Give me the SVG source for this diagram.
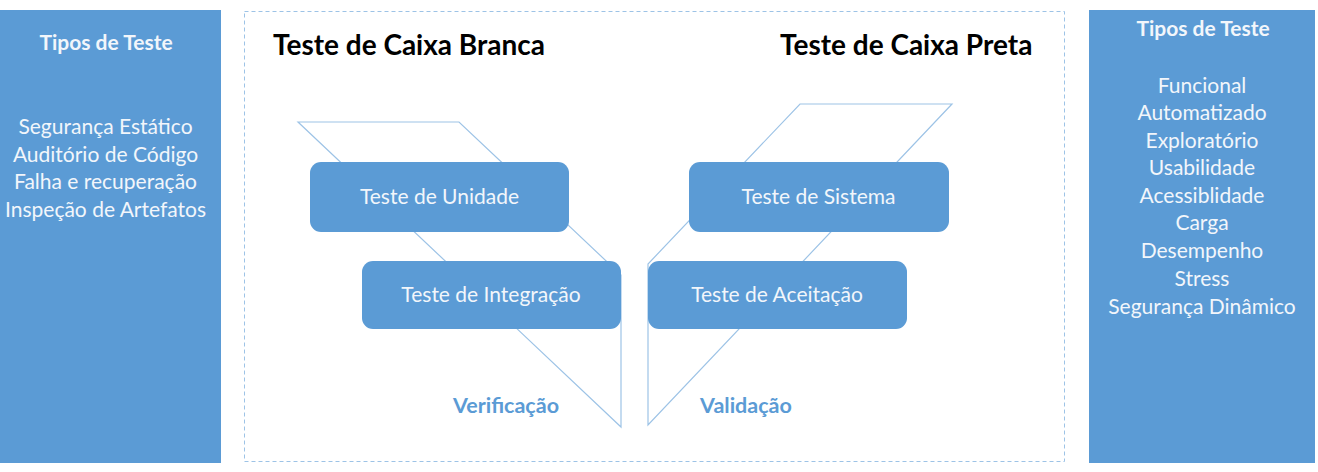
<svg xmlns="http://www.w3.org/2000/svg" width="1318" height="472" viewBox="0 0 1318 472">
<style>
.panel{fill:#5b9bd5;}
.box{fill:#5b9bd5;}
.shape{fill:none;stroke:#9dc3e6;stroke-width:1.2;}
.t{font-family:Lato,"Open Sans",sans-serif;fill:#f2f6fb;text-anchor:middle;dominant-baseline:central;}
.pt{font-size:21px;}
.ph{font-size:21px;font-weight:bold;}
.bt{font-size:21px;}
.title{font-family:Lato,"Open Sans",sans-serif;font-size:28px;font-weight:bold;fill:#000;dominant-baseline:central;}
.lab{font-family:Lato,"Open Sans",sans-serif;font-size:21.5px;font-weight:bold;fill:#5b9bd5;text-anchor:middle;dominant-baseline:central;}
</style>
<rect width="1318" height="472" fill="#fff"/>
<g id="left-panel">
<rect class="panel" x="0" y="10" width="221" height="453"/>
<text class="t ph" x="106" y="41.5">Tipos de Teste</text>
<text class="t pt" x="105.5" y="125.5">Segurança Estático</text>
<text class="t pt" x="105.5" y="153.5">Auditório de Código</text>
<text class="t pt" x="105.5" y="180.5">Falha e recuperação</text>
<text class="t pt" x="105.5" y="208.5">Inspeção de Artefatos</text>
</g>
<g id="right-panel">
<rect class="panel" x="1089" y="10" width="226" height="453"/>
<text class="t ph" x="1203" y="27.5">Tipos de Teste</text>
<text class="t pt" x="1202" y="84.5">Funcional</text>
<text class="t pt" x="1202" y="111.5">Automatizado</text>
<text class="t pt" x="1202" y="139.5">Exploratório</text>
<text class="t pt" x="1202" y="166.5">Usabilidade</text>
<text class="t pt" x="1202" y="194.5">Acessiblidade</text>
<text class="t pt" x="1202" y="221.5">Carga</text>
<text class="t pt" x="1202" y="249.5">Desempenho</text>
<text class="t pt" x="1202" y="277.5">Stress</text>
<text class="t pt" x="1202" y="305.5">Segurança Dinâmico</text>
</g>
<g id="frame">
<rect x="244.5" y="11.5" width="820" height="450" fill="none" stroke="#9dc3e6" stroke-width="1" stroke-dasharray="4,3"/>
<text class="title" x="273" y="44">Teste de Caixa Branca</text>
<text class="title" x="780" y="44">Teste de Caixa Preta</text>
</g>
<g id="connectors">
<polygon class="shape" points="298,122 459,122 621,275 621,427"/>
<polygon class="shape" points="800,104 952,104 648,425 648,264"/>
</g>
<g id="unidade">
<rect class="box" x="310" y="162" width="259" height="70" rx="11"/>
<text class="t bt" x="439.5" y="195.5">Teste de Unidade</text>
</g>
<g id="integracao">
<rect class="box" x="362" y="261" width="259" height="68" rx="11"/>
<text class="t bt" x="491" y="293.5">Teste de Integração</text>
</g>
<g id="sistema">
<rect class="box" x="689" y="162" width="260" height="70" rx="11"/>
<text class="t bt" x="818.5" y="195.5">Teste de Sistema</text>
</g>
<g id="aceitacao">
<rect class="box" x="648" y="261" width="259" height="68" rx="11"/>
<text class="t bt" x="777" y="293.5">Teste de Aceitação</text>
</g>
<g id="labels">
<text class="lab" x="506" y="405">Verificação</text>
<text class="lab" x="746" y="405">Validação</text>
</g>
</svg>
